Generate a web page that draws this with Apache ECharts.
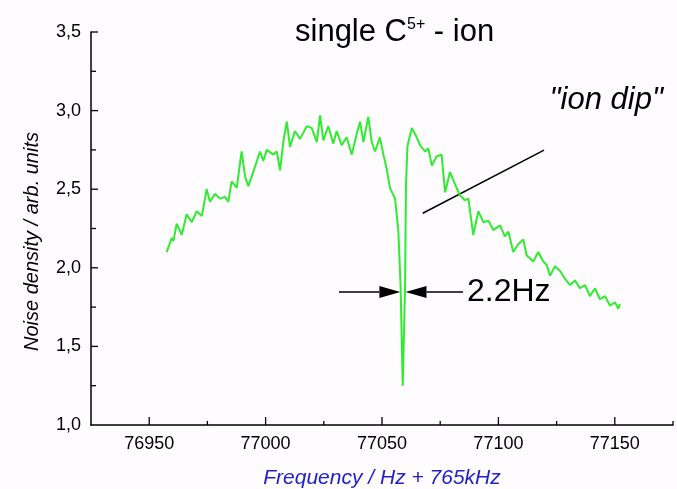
<!DOCTYPE html>
<html>
<head>
<meta charset="utf-8">
<script src="https://cdn.jsdelivr.net/npm/echarts@6/dist/echarts.min.js"></script>
<style>
  html, body { margin: 0; padding: 0; background: #fefcfe; }
  #chart { width: 677px; height: 489px; }
</style>
</head>
<body>
<div id="chart"></div>
<script>
// Noise spectrum of a single C5+ ion (frequency offset from 765 kHz, arbitrary density units)
const freq = [
  76957.5, 76959.7, 76960.4, 76961.8, 76964.0, 76966.1, 76968.3, 76970.4, 76972.6, 76974.7,
  76976.1, 76978.3, 76980.4, 76982.6, 76984.0, 76985.4, 76987.6, 76989.7, 76991.2, 76992.6,
  76994.7, 76997.6, 76999.0, 77000.5, 77003.3, 77004.8, 77006.2, 77007.6, 77009.1, 77010.5,
  77012.6, 77014.8, 77017.7, 77019.8, 77022.0, 77023.4, 77024.8, 77026.9, 77029.1, 77030.5,
  77032.7, 77034.8, 77037.0, 77039.1, 77040.6, 77042.0, 77044.1, 77045.6, 77047.0, 77049.1,
  77050.6, 77052.0, 77053.4, 77055.6, 77057.0, 77058.0, 77058.9, 77059.9, 77060.3, 77060.9,
  77062.8, 77063.4, 77064.9, 77066.3, 77068.5, 77069.9, 77071.4, 77073.5, 77075.6, 77077.1,
  77079.2, 77081.4, 77083.5, 77085.7, 77087.1, 77089.2, 77091.4, 77093.5, 77095.7, 77097.8,
  77100.7, 77102.8, 77104.3, 77106.4, 77108.5, 77110.7, 77112.1, 77115.0, 77117.1, 77119.3,
  77120.7, 77122.2, 77124.3, 77126.5, 77128.6, 77130.8, 77132.9, 77135.0, 77137.2, 77139.3,
  77141.5, 77143.6, 77145.8, 77147.9, 77150.1, 77151.5, 77152.2
];
const density = [
  2.10, 2.19, 2.17, 2.28, 2.21, 2.34, 2.29, 2.36, 2.33, 2.50,
  2.42, 2.47, 2.44, 2.45, 2.42, 2.55, 2.51, 2.74, 2.58, 2.52,
  2.61, 2.74, 2.68, 2.75, 2.72, 2.74, 2.62, 2.80, 2.93, 2.77,
  2.87, 2.82, 2.90, 2.89, 2.80, 2.97, 2.81, 2.90, 2.79, 2.87,
  2.78, 2.83, 2.72, 2.85, 2.93, 2.80, 2.96, 2.80, 2.74, 2.83,
  2.72, 2.63, 2.51, 2.44, 2.24, 1.88, 1.25, 1.88, 2.52, 2.77,
  2.89, 2.90, 2.83, 2.78, 2.74, 2.76, 2.65, 2.71, 2.72, 2.48,
  2.61, 2.53, 2.46, 2.43, 2.44, 2.21, 2.36, 2.29, 2.30, 2.24,
  2.27, 2.20, 2.23, 2.10, 2.15, 2.18, 2.08, 2.04, 2.10, 2.04,
  2.02, 1.95, 2.01, 1.98, 1.93, 1.89, 1.92, 1.87, 1.89, 1.82,
  1.87, 1.80, 1.82, 1.76, 1.78, 1.74, 1.77
];

// Axis ranges and tick positions
const xRange = [76925, 77175];
const yRange = [1, 3.5];
const xMajorTicks = [76950, 77000, 77050, 77100, 77150];
const xMinorTicks = [76975, 77025, 77075, 77125, 77175];
const yMajorTicks = [1.5, 2.0, 2.5, 3.0, 3.5];
const yMinorTicks = [1.25, 1.75, 2.25, 2.75, 3.25];

// Dip marker: centre and full width of the ion dip
const dipCenter = 77059;
const dipWidth = 2.2;
const arrowLevel = 1.846;
const arrowTails = [77031.5, 77084.8];
const widthLabel = '2.2Hz';
const widthLabelAt = [77086.5, arrowLevel];
const dipLabel = '"ion dip"';
const dipLabelAt = [77122.0, 3.067];
const pointerLine = [[77067.5, 2.347], [77119.6, 2.749]];

const FONT = '"Liberation Sans", Arial, Helvetica, sans-serif';

const chart = echarts.init(document.getElementById('chart'), null, { renderer: 'canvas' });

chart.setOption({
  backgroundColor: '#fefcfe',
  animation: false,
  title: {
    left: 290,
    top: 12,
    text: '{a|single C}{s|5+}{a| - ion}',
    textStyle: {
      rich: {
        a: { fontFamily: FONT, fontSize: 31, fontWeight: 'normal', color: '#000', verticalAlign: 'bottom' },
        s: { fontFamily: FONT, fontSize: 16, fontWeight: 'normal', color: '#000', verticalAlign: 'top' }
      }
    }
  },
  grid: { left: 91, right: 4, top: 32, bottom: 64, outerBoundsMode: 'none', containLabel: false },
  xAxis: {
    type: 'value',
    min: xRange[0],
    max: xRange[1],
    axisLine: { lineStyle: { color: '#000', width: 1.5 } },
    axisTick: { show: false },
    axisLabel: {
      customValues: xMajorTicks, color: '#000', fontSize: 18, margin: 10, fontFamily: FONT,
      formatter: v => String(v)
    },
    splitLine: { show: false },
    name: 'Frequency / Hz + 765kHz',
    nameLocation: 'middle',
    nameGap: 43,
    nameTextStyle: { color: '#2222c8', fontStyle: 'italic', fontSize: 21, fontFamily: FONT }
  },
  yAxis: {
    type: 'value',
    min: yRange[0],
    max: yRange[1],
    interval: 0.5,
    axisLine: { show: true, lineStyle: { color: '#000', width: 1.5 } },
    axisTick: { show: false },
    minorTick: { show: false },
    axisLabel: {
      color: '#000', fontSize: 18, margin: 10, fontFamily: FONT,
      formatter: v => v.toFixed(1).replace('.', ',')
    },
    splitLine: { show: false },
    minorSplitLine: { show: false },
    name: 'Noise density / arb. units',
    nameLocation: 'middle',
    nameRotate: 90,
    nameGap: 49,
    nameTextStyle: { color: '#000', fontStyle: 'italic', fontSize: 20, fontFamily: FONT, padding: [0, 26, 0, 0] }
  },
  series: [
    {
      type: 'line',
      data: freq.map((f, i) => [f, density[i]]),
      showSymbol: false,
      symbol: 'none',
      lineStyle: { color: '#30ec30', width: 2 },
      z: 3
    }
  ]
});

// Inward-pointing ticks and annotations, placed through the axis scales
const toPx = p => chart.convertToPixel({ gridIndex: 0 }, p);
const origin = toPx([xRange[0], yRange[0]]);
const axisX = origin[0];
const axisY = origin[1];
const graphics = [];
const tick = (x1, y1, x2, y2) => graphics.push({ type: 'line', silent: true, z: 10,
  shape: { x1, y1, x2, y2 }, style: { stroke: '#000', lineWidth: 1.3 } });

xMajorTicks.forEach(v => { const x = toPx([v, yRange[0]])[0]; tick(x, axisY, x, axisY - 8); });
xMinorTicks.forEach(v => { const x = toPx([v, yRange[0]])[0]; tick(x, axisY, x, axisY - 4); });
yMajorTicks.forEach(v => { const y = toPx([xRange[0], v])[1]; tick(axisX, y, axisX + 7, y); });
yMinorTicks.forEach(v => { const y = toPx([xRange[0], v])[1]; tick(axisX, y, axisX + 5, y); });

// Pointer line to the "ion dip" label
const p0 = toPx(pointerLine[0]);
const p1 = toPx(pointerLine[1]);
graphics.push({ type: 'line', silent: true,
  shape: { x1: p0[0], y1: p0[1], x2: p1[0], y2: p1[1] }, style: { stroke: '#000', lineWidth: 1.5 } });

// Width arrows pointing at the dip edges
const leftTip = toPx([dipCenter - dipWidth / 2, arrowLevel]);
const rightTip = toPx([dipCenter + dipWidth / 2, arrowLevel]);
const leftTail = toPx([arrowTails[0], arrowLevel]);
const rightTail = toPx([arrowTails[1], arrowLevel]);
const headLen = 21, headHalf = 6;
graphics.push({ type: 'line', silent: true,
  shape: { x1: leftTail[0], y1: leftTail[1], x2: leftTip[0] - headLen, y2: leftTip[1] },
  style: { stroke: '#000', lineWidth: 1.5 } });
graphics.push({ type: 'polygon', silent: true,
  shape: { points: [[leftTip[0], leftTip[1]], [leftTip[0] - headLen, leftTip[1] - headHalf], [leftTip[0] - headLen, leftTip[1] + headHalf]] },
  style: { fill: '#000' } });
graphics.push({ type: 'line', silent: true,
  shape: { x1: rightTail[0], y1: rightTail[1], x2: rightTip[0] + headLen, y2: rightTip[1] },
  style: { stroke: '#000', lineWidth: 1.5 } });
graphics.push({ type: 'polygon', silent: true,
  shape: { points: [[rightTip[0], rightTip[1]], [rightTip[0] + headLen, rightTip[1] - headHalf], [rightTip[0] + headLen, rightTip[1] + headHalf]] },
  style: { fill: '#000' } });

// Text labels
const wPos = toPx(widthLabelAt);
const dPos = toPx(dipLabelAt);
graphics.push({ type: 'text', x: wPos[0], y: wPos[1], silent: true,
  style: { text: widthLabel, fontFamily: FONT, fontSize: 32, fill: '#000', align: 'left', verticalAlign: 'middle' } });
graphics.push({ type: 'text', x: dPos[0], y: dPos[1], silent: true,
  style: { text: dipLabel, fontFamily: FONT, fontSize: 31, fontStyle: 'italic', fill: '#000', align: 'left', verticalAlign: 'middle' } });

chart.setOption({ graphic: graphics });
</script>
</body>
</html>
